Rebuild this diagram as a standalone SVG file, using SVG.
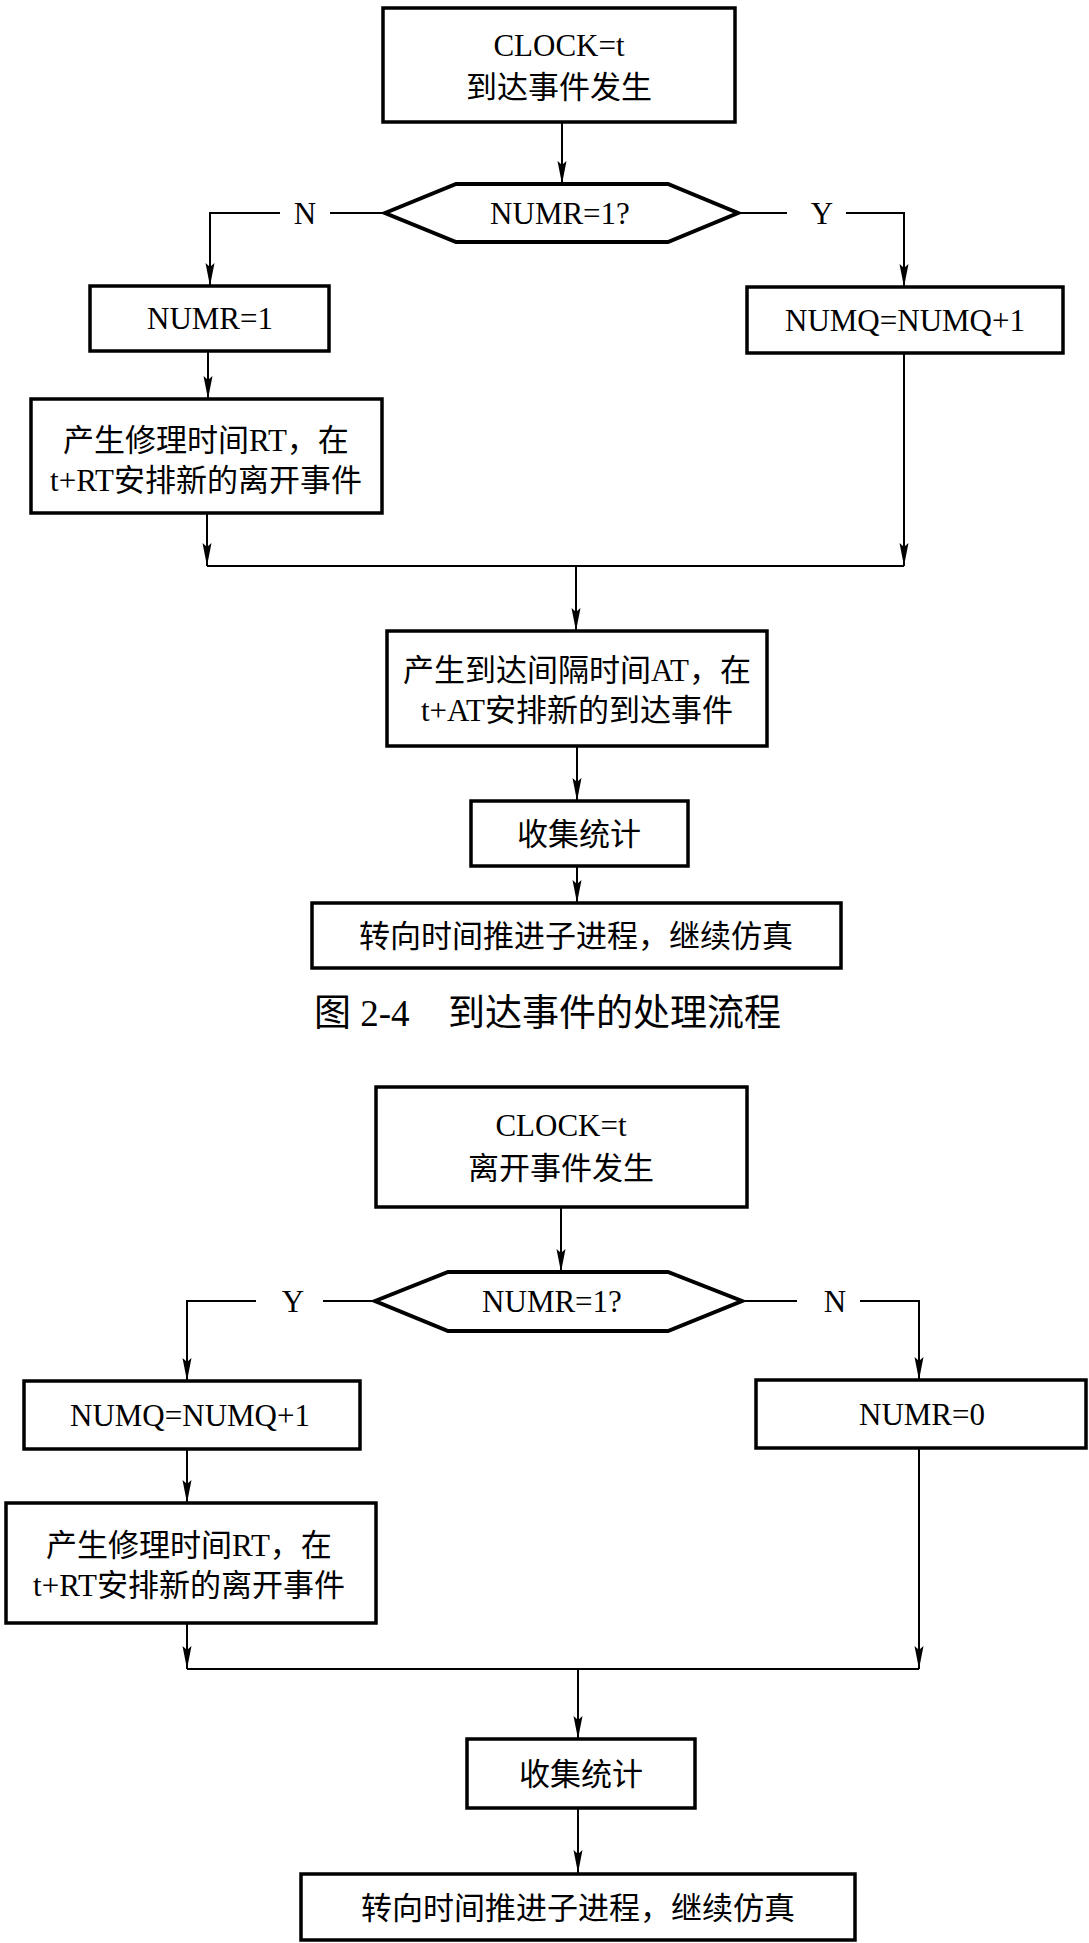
<svg xmlns="http://www.w3.org/2000/svg" width="1089" height="1943" viewBox="0 0 1089 1943">
<style>
.box{fill:#fff;stroke:#000;stroke-width:3.5}
.hex{fill:#fff;stroke:#000;stroke-width:4}
.ln{fill:none;stroke:#000;stroke-width:2}
.t{font-family:"Liberation Serif","Noto Sans CJK SC",serif;font-size:31px;text-anchor:middle;fill:#000}
.cap{font-family:"Liberation Serif","Noto Sans CJK SC",serif;font-size:37px;fill:#000}
</style>
<defs>
<marker id="ah" markerUnits="userSpaceOnUse" markerWidth="24" markerHeight="10" refX="23" refY="5" orient="auto">
<path d="M0,0.5 L23,5 L0,9.5 L4,5 z" fill="#000"/>
</marker>
</defs>
<rect width="1089" height="1943" fill="#fff"/>
<g id="connectors">
<path class="ln" d="M562,122 V184" marker-end="url(#ah)"/>
<path class="ln" d="M385,213 H330"/>
<path class="ln" d="M280,213 H210 V286" marker-end="url(#ah)"/>
<path class="ln" d="M738,213 H787"/>
<path class="ln" d="M846,213 H904 V287" marker-end="url(#ah)"/>
<path class="ln" d="M208,351 V399" marker-end="url(#ah)"/>
<path class="ln" d="M207,513 V566" marker-end="url(#ah)"/>
<path class="ln" d="M904,353 V566" marker-end="url(#ah)"/>
<path class="ln" d="M207,566 H904"/>
<path class="ln" d="M576,566 V631" marker-end="url(#ah)"/>
<path class="ln" d="M577,746 V801" marker-end="url(#ah)"/>
<path class="ln" d="M577,866 V903" marker-end="url(#ah)"/>
<path class="ln" d="M561,1207 V1272" marker-end="url(#ah)"/>
<path class="ln" d="M375,1301 H323"/>
<path class="ln" d="M256,1301 H187 V1381" marker-end="url(#ah)"/>
<path class="ln" d="M742,1301 H797"/>
<path class="ln" d="M860,1301 H919 V1380" marker-end="url(#ah)"/>
<path class="ln" d="M187,1449 V1503" marker-end="url(#ah)"/>
<path class="ln" d="M187,1623 V1669" marker-end="url(#ah)"/>
<path class="ln" d="M919,1448 V1669" marker-end="url(#ah)"/>
<path class="ln" d="M187,1669 H919"/>
<path class="ln" d="M578,1669 V1739" marker-end="url(#ah)"/>
<path class="ln" d="M578,1808 V1873" marker-end="url(#ah)"/>
<text class="t" x="305" y="224">N</text>
<text class="t" x="822" y="224">Y</text>
<text class="t" x="293" y="1312">Y</text>
<text class="t" x="835" y="1312">N</text>
</g>
<g id="a_start">
<rect class="box" x="383" y="8" width="352" height="114"/>
<text class="t" x="559" y="56">CLOCK=t</text>
<text class="t" x="559" y="98">到达事件发生</text>
</g>
<g id="a_decision">
<polygon class="hex" points="385,213 456,184 668,184 738,213 668,242 456,242"/>
<text class="t" x="560" y="224">NUMR=1?</text>
</g>
<g id="a_numr1">
<rect class="box" x="90" y="286" width="239" height="65"/>
<text class="t" x="210" y="329">NUMR=1</text>
</g>
<g id="a_numq">
<rect class="box" x="747" y="287" width="316" height="66"/>
<text class="t" x="905" y="331">NUMQ=NUMQ+1</text>
</g>
<g id="a_repair">
<rect class="box" x="31" y="399" width="351" height="114"/>
<text class="t" x="206" y="451">产生修理时间RT，在</text>
<text class="t" x="206" y="491">t+RT安排新的离开事件</text>
</g>
<g id="a_arrival">
<rect class="box" x="387" y="631" width="380" height="115"/>
<text class="t" x="577" y="681">产生到达间隔时间AT，在</text>
<text class="t" x="577" y="721">t+AT安排新的到达事件</text>
</g>
<g id="a_stats">
<rect class="box" x="471" y="801" width="217" height="65"/>
<text class="t" x="579" y="845">收集统计</text>
</g>
<g id="a_end">
<rect class="box" x="312" y="903" width="529" height="65"/>
<text class="t" x="576" y="947">转向时间推进子进程，继续仿真</text>
</g>
<g id="caption">
<text class="cap" x="314" y="1026">图 2-4</text>
<text class="cap" x="448" y="1026">到达事件的处理流程</text>
</g>
<g id="b_start">
<rect class="box" x="376" y="1087" width="371" height="120"/>
<text class="t" x="561" y="1136">CLOCK=t</text>
<text class="t" x="561" y="1179">离开事件发生</text>
</g>
<g id="b_decision">
<polygon class="hex" points="375,1301 448,1272 668,1272 742,1301 668,1331 448,1331"/>
<text class="t" x="552" y="1312">NUMR=1?</text>
</g>
<g id="b_numq">
<rect class="box" x="24" y="1381" width="336" height="68"/>
<text class="t" x="190" y="1426">NUMQ=NUMQ+1</text>
</g>
<g id="b_numr0">
<rect class="box" x="756" y="1380" width="330" height="68"/>
<text class="t" x="922" y="1425">NUMR=0</text>
</g>
<g id="b_repair">
<rect class="box" x="6" y="1503" width="370" height="120"/>
<text class="t" x="189" y="1556">产生修理时间RT，在</text>
<text class="t" x="189" y="1596">t+RT安排新的离开事件</text>
</g>
<g id="b_stats">
<rect class="box" x="467" y="1739" width="228" height="69"/>
<text class="t" x="581" y="1785">收集统计</text>
</g>
<g id="b_end">
<rect class="box" x="301" y="1874" width="554" height="66"/>
<text class="t" x="578" y="1919">转向时间推进子进程，继续仿真</text>
</g>
</svg>
